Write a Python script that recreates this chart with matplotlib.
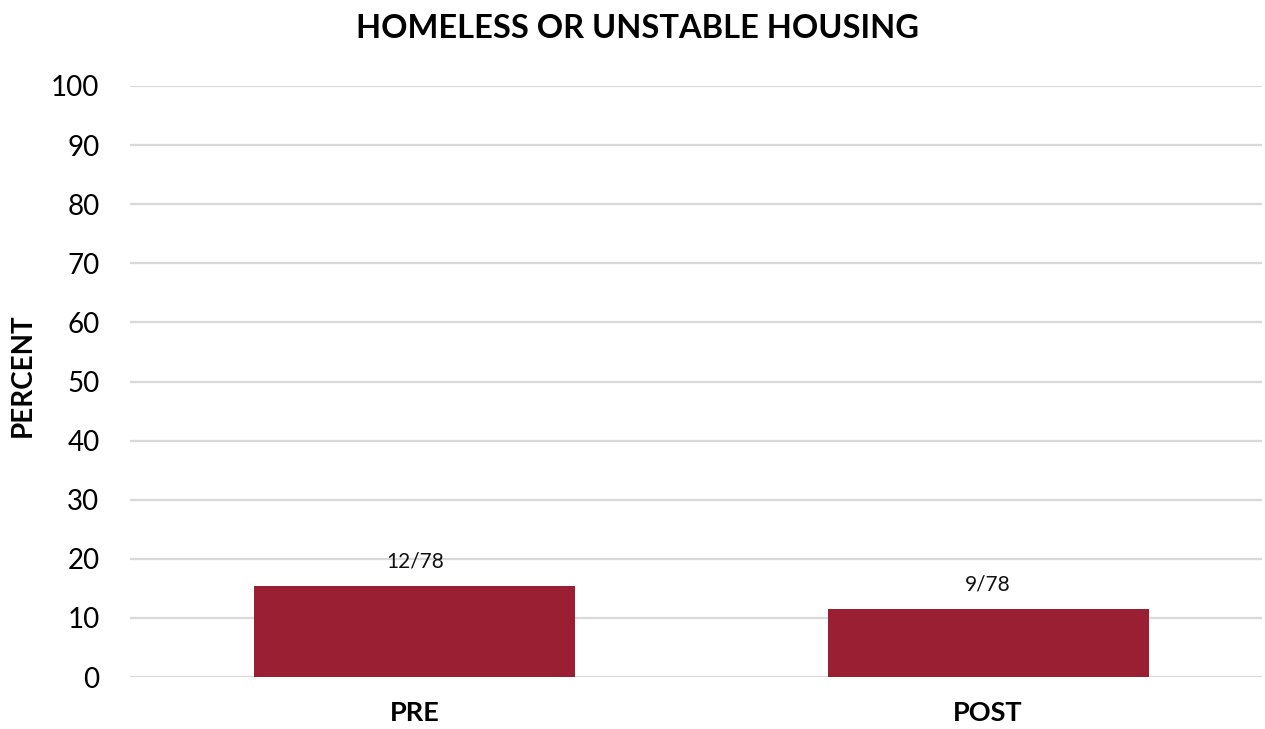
import matplotlib
matplotlib.use("Agg")
import matplotlib.pyplot as plt

categories = ["PRE", "POST"]
counts = [12, 9]
totals = [78, 78]
percents = [c / t * 100 for c, t in zip(counts, totals)]
labels = [f"{c}/{t}" for c, t in zip(counts, totals)]
yticks = [0, 10, 20, 30, 40, 50, 60, 70, 80, 90, 100]

plt.rcParams["font.family"] = ["Lato", "DejaVu Sans"]

fig = plt.figure(figsize=(12.65, 7.29), dpi=100)
ax = fig.add_axes([130 / 1265, 52 / 729, (1262 - 130) / 1265, 591 / 729])

x = list(range(len(categories)))
bars = ax.bar(x, percents, width=0.56, color="#9a1f33", zorder=3)

for rect, lab in zip(bars, labels):
    ax.text(rect.get_x() + rect.get_width() / 2, rect.get_height() + 2.4, lab,
            ha="center", va="bottom", fontsize=15, color="#111111")

ax.set_ylim(0, 100)
ax.set_xlim(-0.497, 1.478)
ax.set_yticks(yticks)
ax.set_yticklabels([str(v) for v in yticks], fontsize=20)
ax.set_xticks(x)
ax.set_xticklabels(categories, fontsize=19.5, fontweight="bold")
ax.tick_params(axis="y", length=0, pad=22)
ax.tick_params(axis="x", length=0, pad=17)
ax.yaxis.grid(True, color="#d9d9d9", linewidth=1.6, zorder=0)
ax.set_axisbelow(True)
for s in ax.spines.values():
    s.set_visible(False)

ax.set_ylabel("PERCENT", fontsize=20, fontweight="bold")
ax.yaxis.set_label_coords(-(130 - 36) / 1132, 0.51)
fig.text(637 / 1265, 1 - 28 / 729, "HOMELESS OR UNSTABLE HOUSING",
         ha="center", va="center", fontsize=23.5, fontweight="bold")

fig.savefig("out.png", dpi=100)
